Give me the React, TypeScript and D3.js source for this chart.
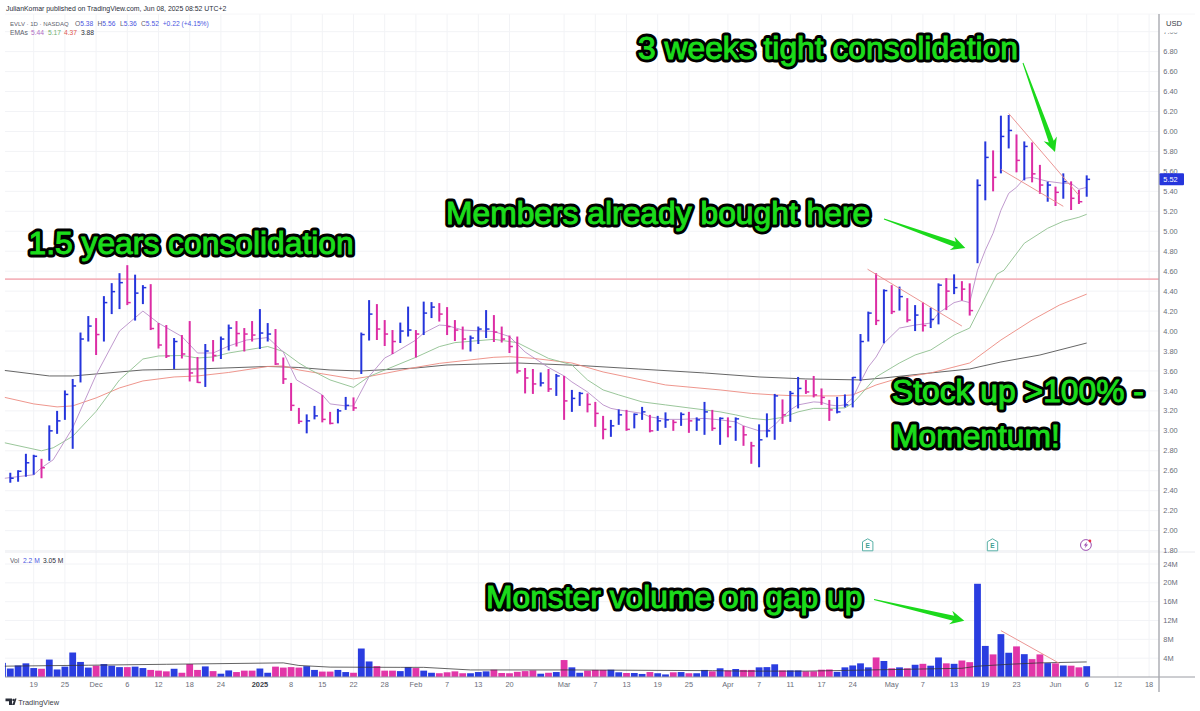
import React from "react";
import * as d3 from "d3";

const directionByTens = ["bbbbpbbbbb","bpbbbpbbpp","pbpppbpbbp","ppbbppppbb","ppbbpbbppp","bbpbbppppb","bbppppppbp","bpbbpppbbp","bbpbbpbpbb","pbpbppbbbp","bbppppbbbb","bpbpbpbpbb","pbppbbpbbp","bppbpbppb"];
const direction = directionByTens.join("");

const high = [2.58,2.605,2.77,2.76,2.72,3.055,3.2,3.405,3.52,3.985,4.15,4.13,4.35,4.48,4.58,4.66,4.565,4.46,4.47,4.08,4.06,3.93,3.96,4.1,3.74,3.87,3.91,3.945,4.065,4.1,4.03,4.1,4.22,4.08,4.02,3.735,3.48,3.23,3.165,3.25,3.36,3.19,3.22,3.34,3.335,3.985,4.31,4.27,4.11,4.01,4.085,4.245,4.01,4.295,4.29,4.28,4.24,4.11,4.045,3.955,4.045,4.21,4.16,4.045,3.955,3.945,3.63,3.62,3.585,3.62,3.57,3.55,3.41,3.39,3.375,3.29,3.15,3.11,3.215,3.21,3.175,3.24,3.16,3.15,3.185,3.11,3.185,3.19,3.135,3.29,3.21,3.135,3.135,3.135,3.05,2.89,3.065,3.175,3.37,3.315,3.4,3.54,3.51,3.55,3.425,3.31,3.34,3.365,3.54,3.97,4.195,4.58,4.418,4.46,4.445,4.33,4.26,4.288,4.235,4.478,4.53,4.568,4.5,4.478,5.52,5.9,5.81,6.158,6.165,5.97,5.9,5.89,5.665,5.497,5.447,5.58,5.5,5.413,5.56];
const low = [2.48,2.49,2.54,2.56,2.525,2.7,2.97,3.11,2.82,3.485,3.895,3.76,3.895,4.17,4.22,4.26,4.105,4.27,4.01,3.825,3.73,3.62,3.725,3.495,3.48,3.44,3.695,3.72,3.805,3.845,3.795,3.895,3.82,3.895,3.66,3.47,3.2,3.07,2.975,3.115,3.085,3.065,3.075,3.21,3.2,3.57,3.905,3.91,3.85,3.77,3.88,3.945,3.735,3.96,4.13,4.095,3.96,3.9,3.815,3.795,3.87,3.93,3.89,3.885,3.78,3.575,3.375,3.37,3.445,3.39,3.35,3.11,3.19,3.25,3.185,3.04,2.915,2.94,3.06,3.0,3.025,3.11,2.985,3.0,3.03,3.0,3.05,2.98,3.0,2.96,3.0,2.86,2.935,2.9,2.85,2.67,2.635,2.935,2.91,3.07,3.09,3.225,3.37,3.335,3.26,3.1,3.175,3.235,3.235,3.5,3.895,4.06,3.877,4.17,4.205,4.087,4.0,3.995,4.03,4.067,4.21,4.37,4.305,4.155,4.68,5.31,5.4,5.58,5.83,5.59,5.51,5.49,5.375,5.296,5.253,5.326,5.213,5.273,5.346];
const close = [2.525,2.595,2.68,2.745,2.63,3.0,3.1,3.365,3.45,3.92,4.05,3.965,4.285,4.395,4.485,4.285,4.38,4.435,4.025,3.86,3.75,3.895,3.77,3.58,3.485,3.8,3.755,3.92,4.03,3.975,3.97,3.96,3.98,3.97,3.67,3.52,3.255,3.095,3.1,3.15,3.115,3.075,3.2,3.255,3.23,3.965,4.17,4.02,3.97,3.895,4.0,4.01,3.97,4.18,4.24,4.17,4.045,4.01,3.92,3.93,4.02,4.02,3.99,3.92,3.845,3.6,3.53,3.47,3.48,3.42,3.55,3.3,3.325,3.375,3.265,3.175,3.015,3.05,3.16,3.015,3.165,3.19,3.0,3.1,3.11,3.085,3.165,3.1,3.11,3.19,3.025,3.125,3.04,3.12,2.96,2.85,2.91,3.0,3.35,3.16,3.375,3.425,3.39,3.36,3.335,3.21,3.19,3.26,3.535,3.895,4.18,4.105,4.405,4.195,4.345,4.11,4.16,4.055,4.117,4.46,4.4,4.435,4.42,4.205,5.46,5.74,5.54,5.95,6.01,5.71,5.85,5.575,5.463,5.463,5.39,5.497,5.33,5.296,5.52];
const volume = [1.8,2.45,2.9,1.9,1.75,3.7,1.6,2.2,5.2,3.2,2.0,2.4,2.75,2.4,2.1,2.1,2.2,1.9,1.5,1.35,1.2,1.75,0.9,2.75,1.5,2.25,1.25,0.7,1.4,1.05,1.35,1.35,1.8,0.9,2.2,2.0,2.1,2.0,2.3,1.5,1.15,1.15,1.5,1.05,0.9,6.05,3.3,2.3,1.35,1.35,1.25,2.1,1.9,1.35,0.9,0.8,1.0,1.2,0.8,0.8,1.05,1.2,1.55,0.85,0.8,1.1,1.25,1.4,0.7,0.9,1.05,3.6,2.05,0.9,1.35,1.5,1.5,1.55,1.0,0.85,0.85,0.65,1.05,0.8,0.55,1.0,1.05,0.8,0.8,1.5,1.2,1.85,1.4,1.7,1.5,1.5,2.05,2.1,2.7,1.4,1.4,1.4,1.2,1.2,1.55,1.6,1.1,2.05,2.45,2.9,2.05,4.15,3.4,1.85,2.05,1.85,2.6,2.8,2.4,4.15,2.9,2.8,3.5,3.15,19.8,6.6,4.8,9.1,5.15,6.5,4.85,3.8,4.8,2.95,2.9,2.45,2.4,2.05,2.3];

const emaFast: [number, number][] = [[-0.7,2.525],[3,2.56],[4,2.63],[5.5,2.71],[8,3.03],[11,3.56],[14,4.0],[17,4.2],[19,4.08],[22,3.945],[24,3.78],[26,3.78],[28,3.85],[30.3,3.91],[33,3.935],[35,3.79],[36.7,3.51],[40,3.36],[41,3.27],[43,3.25],[44,3.25],[46,3.545],[48,3.73],[49,3.77],[52,3.91],[53,3.98],[55,4.06],[56,4.055],[58,4.01],[62,3.995],[64,3.945],[66,3.79],[69,3.635],[71,3.55],[72,3.49],[74,3.39],[75,3.325],[76,3.26],[77,3.225],[78,3.21],[81,3.175],[82,3.14],[84,3.115],[86,3.115],[89,3.125],[91,3.11],[93,3.09],[94,3.05],[96,3.0],[97,3.0],[98,3.06],[99,3.14],[100,3.21],[101,3.26],[103,3.29],[104,3.285],[105,3.26],[106,3.25],[107,3.26],[108,3.33],[109,3.49],[110,3.64],[111,3.74],[112,3.877],[114,4.03],[116,4.06],[118,4.08],[119,4.18],[121,4.285],[122,4.305],[123,4.285],[124,4.61],[125,4.81],[126,4.98],[127,5.21],[128,5.38],[129,5.44],[130,5.53],[131,5.54],[133,5.5],[135,5.48],[136,5.48],[137,5.42],[138,5.44]];
const emaMid: [number, number][] = [[-0.7,2.88],[4,2.8],[5.5,2.83],[8,2.945],[11,3.195],[14,3.51],[17,3.72],[19,3.75],[22,3.755],[24,3.73],[26,3.74],[28,3.78],[30.3,3.81],[33,3.845],[35,3.795],[37,3.68],[38.4,3.615],[41,3.51],[44,3.435],[46,3.545],[52,3.737],[55,3.844],[57,3.884],[62,3.917],[65,3.884],[69,3.726],[71,3.683],[72,3.66],[74,3.51],[76,3.41],[78,3.36],[81,3.29],[84,3.26],[87,3.23],[89,3.21],[91,3.19],[93,3.16],[95,3.125],[97,3.11],[99,3.135],[101,3.19],[103,3.225],[105,3.225],[107,3.23],[108,3.276],[109,3.36],[111,3.54],[114,3.68],[116,3.76],[118,3.81],[121,3.96],[123,4.03],[126.5,4.57],[127.4,4.61],[130,4.88],[133,5.03],[135,5.1],[137,5.14],[138,5.17]];
const emaSlow: [number, number][] = [[-0.7,3.335],[3,3.27],[6,3.24],[8,3.25],[11,3.33],[14,3.43],[17,3.5],[21,3.54],[24,3.55],[28,3.585],[33,3.645],[35,3.65],[37,3.61],[44,3.52],[46,3.545],[52,3.636],[55,3.676],[62,3.737],[64,3.743],[67,3.727],[72,3.68],[76,3.59],[84,3.46],[91,3.41],[95,3.375],[98,3.36],[101,3.35],[106,3.35],[108,3.36],[111,3.46],[114,3.53],[118,3.58],[123,3.68],[127,3.91],[131,4.11],[134.5,4.26],[138,4.37]];
const emaLong: [number, number][] = [[-0.7,3.605],[5,3.55],[8,3.55],[11,3.57],[17,3.61],[24,3.62],[33,3.645],[37,3.635],[41,3.61],[45,3.6],[52,3.63],[56,3.66],[65,3.68],[73,3.655],[80.5,3.62],[89,3.58],[96,3.54],[102,3.52],[109,3.51],[112,3.53],[118,3.58],[123,3.62],[127,3.69],[132,3.76],[138,3.88]];
const volumeAverage: [number, number][] = [[-0.7,2.3],[10,2.5],[20,2.7],[35,3.0],[37,2.45],[41,2.1],[50,2.05],[53,2.05],[59,1.5],[72,1.5],[90,1.35],[94,1.25],[102,1.25],[122,1.85],[124,2.3],[128,2.7],[132,3.0],[138,3.2]];

const priceTicks = [7.0,6.8,6.6,6.4,6.2,6.0,5.8,5.6,5.4,5.2,5.0,4.8,4.6,4.4,4.2,4.0,3.8,3.6,3.4,3.2,3.0,2.8,2.6,2.4,2.2,2.0,1.8];
const volumeTicks = [4,8,12,16,20,24];
const timeLabels = ["19","25","Dec","6","12","18","24","2025","8","15","22","28","Feb","7","13","20","Mar","7","13","19","25","Apr","7","11","17","24","May","7","13","19","23","Jun","6","12","18"];
const timeIndex = [3,7,11,15,19,23,27,32,36,40,44,48,52,56,60,64,71,75,79,83,87,92,96,100,104,108,113,117,121,125,129,134,138,142,146];

const resistanceLevel = 4.52;
const priceTrends: [number, number, number, number][] = [[109.9,4.62,122,4.05],[128,6.18,137,5.36],[127,5.62,135,5.25]];
const volumeTrend = [127,9.85,134.5,2.9];

const labels: [string, number, number][] = [
  ["3 weeks tight consolidation", 638, 58.5],
  ["1.5 years consolidation", 28.5, 253.5],
  ["Members already bought here", 446, 224],
  ["Stock up >100% -", 892, 401.5],
  ["Momentum!", 892, 447],
  ["Monster volume on gap up", 486, 607.5],
];
const arrows: [number, number, number, number][] = [
  [1023,63,1055,152],
  [884,219,965.3,248],
  [874,599.5,964.3,620.7],
];
const earningsAt = [110, 126];
const eventAt = 138;

const BLUE = "#2535dc";
const PINK = "#dc2ca4";
const VBLUE = "#2a3de0";
const VPINK = "#e236a8";
const FONT = "'Liberation Sans', Arial, sans-serif";
const GRID = "#f2f3f6";
const AXIS_TEXT = "#6a6d78";

const x = d3.scaleLinear().domain([0, 138]).range([10.3, 1086.7]);
const y = d3.scaleLinear().domain([1.8, 7.0]).range([550.6, 31.66]);
const yv = d3.scaleLinear().domain([0, 24]).range([677, 564]);

const priceLine = d3.line<[number, number]>().x(d => x(d[0])).y(d => y(d[1]));
const volLine = d3.line<[number, number]>().x(d => x(d[0])).y(d => yv(d[1]));

function arrowPath(a: [number, number, number, number]) {
  const [x0, y0, x1, y1] = a;
  const dx = x1 - x0, dy = y1 - y0;
  const L = Math.hypot(dx, dy);
  const ux = dx / L, uy = dy / L, nx = -uy, ny = ux;
  const pt = (along: number, off: number) => `${x0 + ux * along + nx * off},${y0 + uy * along + ny * off}`;
  return "M" + [
    pt(0, 0.5), pt(L - 11, 2.6), pt(L - 14, 7), pt(L, 0),
    pt(L - 14, -7), pt(L - 11, -2.6), pt(0, -0.5),
  ].join("L") + "Z";
}

export default function App() {
  const t = 1159;
  return (
    <svg width={1200} height={711} viewBox="0 0 1200 711"
      style={{ position: "absolute", left: 0, top: 0, background: "#fff" }} fontFamily={FONT}>
      <defs>
        <clipPath id="vp"><rect x={5} y={553} width={1154} height={124} /></clipPath>
      </defs>
      <rect width={1200} height={711} fill="#fff" />
      {/* grid */}
      {priceTicks.map(p => <line key={p} x1={5} x2={t} y1={y(p)} y2={y(p)} stroke={GRID} />)}
      {volumeTicks.map(v => <line key={v} x1={5} x2={t} y1={yv(v)} y2={yv(v)} stroke={GRID} />)}
      {timeIndex.map(i => <line key={i} x1={x(i)} x2={x(i)} y1={14} y2={677} stroke={GRID} />)}
      <line x1={5} x2={1195} y1={14} y2={14} stroke="#f6f6f8" />
      <line x1={5} x2={1195} y1={552} y2={552} stroke="#e9eaee" />

      {/* resistance */}
      <line x1={5} x2={t} y1={y(resistanceLevel)} y2={y(resistanceLevel)} stroke="#f4b4bc" strokeWidth={1.8} />

      {/* EMAs */}
      <path d={priceLine(emaLong)!} fill="none" stroke="#555" strokeWidth={0.9} />
      <path d={priceLine(emaSlow)!} fill="none" stroke="#ec8a80" strokeWidth={0.9} />
      <path d={priceLine(emaMid)!} fill="none" stroke="#8fbf8f" strokeWidth={0.9} />
      <path d={priceLine(emaFast)!} fill="none" stroke="#b98fc8" strokeWidth={0.9} />

      {/* price bars */}
      {high.map((h, i) => {
        const c = direction[i] === "b" ? BLUE : PINK;
        return (
          <g key={i} stroke={c}>
            <line x1={x(i)} x2={x(i)} y1={y(h)} y2={y(low[i])} strokeWidth={2} />
            <line x1={x(i)} x2={x(i) + 3.4} y1={y(close[i])} y2={y(close[i])} strokeWidth={1.5} />
          </g>
        );
      })}

      {/* trend lines */}
      {priceTrends.map((d, i) => (
        <line key={i} x1={x(d[0])} y1={y(d[1])} x2={x(d[2])} y2={y(d[3])} stroke="#e98a88" strokeWidth={0.9} />
      ))}

      {/* volume */}
      <g clipPath="url(#vp)">
        <rect x={x(-1) - 3.4} width={6.8} y={yv(3)} height={yv(0) - yv(3)} fill={VBLUE} />
        {volume.map((v, i) => (
          <rect key={i} x={x(i) - 3.4} width={6.8} y={yv(v)} height={yv(0) - yv(v)}
            fill={direction[i] === "b" ? VBLUE : VPINK} />
        ))}
      </g>
      <path d={volLine(volumeAverage)!} fill="none" stroke="#333" strokeWidth={0.9} opacity={0.85} />
      <line x1={x(volumeTrend[0])} y1={yv(volumeTrend[1])} x2={x(volumeTrend[2])} y2={yv(volumeTrend[3])} stroke="#e98a88" strokeWidth={0.9} />
      <line x1={5} x2={1195} y1={677} y2={677} stroke="#9a9ca3" strokeWidth={1} />

      {/* axes */}
      <line x1={t} x2={t} y1={14} y2={692} stroke="#a8aab0" strokeWidth={1.4} />
      {priceTicks.map(p => (
        <text key={p} x={1163.3} y={y(p) + 2.6} fontSize={7.4} fill={AXIS_TEXT}>{p.toFixed(2)}</text>
      ))}
      <rect x={1160} y={15} width={33} height={17.5} fill="#fff" />
      <text x={1166} y={26} fontSize={7.6} fill="#3a3d47">USD</text>
      {volumeTicks.map(v => (
        <text key={v} x={1163.3} y={yv(v) + 2.6} fontSize={7.4} fill={AXIS_TEXT}>{v}M</text>
      ))}
      <rect x={1159.5} y={y(close[138]) - 6} width={24.5} height={12} rx={1} fill={BLUE} />
      <text x={1163.3} y={y(close[138]) + 2.7} fontSize={7.4} fill="#fff">{close[138].toFixed(2)}</text>
      {timeLabels.map((l, i) => (
        <text key={i} x={x(timeIndex[i])} y={687} fontSize={7.4} textAnchor="middle"
          fill={l === "2025" ? "#3a3d47" : AXIS_TEXT} fontWeight={l === "2025" ? 700 : 400}>{l}</text>
      ))}

      {/* event icons */}
      {earningsAt.map(i => (
        <g key={i} transform={`translate(${x(i) - 0.6},545)`}>
          <path d="M-5.2,-3.2 L0,-6.2 L5.2,-3.2 L5.2,5.8 L-5.2,5.8 Z" fill="#fff" stroke="#58b0a6" strokeWidth={1} />
          <text x={0} y={3} fontSize={6.5} fontWeight={700} textAnchor="middle" fill="#3f9e93">E</text>
        </g>
      ))}
      <g transform={`translate(${x(eventAt) - 0.8},545)`}>
        <circle r={5.4} fill="#fff" stroke="#9c4fb0" strokeWidth={1} />
        <path d="M1.2,-3.2 L-2.2,0.6 L-0.2,0.6 L-1.2,3.2 L2.2,-0.6 L0.2,-0.6 Z" fill="#9c4fb0" />
        <circle cx={4} cy={-4} r={1.4} fill="#e8344a" />
      </g>

      {/* header */}
      <text x={6} y={11.2} fontSize={6.9} fill="#2a2e39">JulianKomar published on TradingView.com, Jun 08, 2025 08:52 UTC+2</text>
      <g fontSize={6.7}>
        <text x={10} y={25.6} fontSize={6} fill="#5d606b">EVLV · 1D · NASDAQ</text>
        <text x={75} y={25.6} fill="#5d606b">O<tspan fill="#4a55e0">5.38</tspan></text>
        <text x={97.5} y={25.6} fill="#5d606b">H<tspan fill="#4a55e0">5.56</tspan></text>
        <text x={120} y={25.6} fill="#5d606b">L<tspan fill="#4a55e0">5.36</tspan></text>
        <text x={141} y={25.6} fill="#5d606b">C<tspan fill="#4a55e0">5.52</tspan></text>
        <text x={162.7} y={25.6} fill="#4a55e0">+0.22 (+4.15%)</text>
        <text x={10} y={34.8} fill="#5d606b">EMAs</text>
        <text x={31} y={34.8} fill="#b06cc4">5.44</text>
        <text x={48} y={34.8} fill="#6fb06f">5.17</text>
        <text x={64} y={34.8} fill="#e0574f">4.37</text>
        <text x={81} y={34.8} fill="#2a2e39">3.88</text>
        <text x={10} y={563} fill="#5d606b">Vol</text>
        <text x={23} y={563} fill="#4a55e0">2.2 M</text>
        <text x={43} y={563} fill="#2a2e39">3.05 M</text>
      </g>

      {/* footer */}
      <g fill="#2a2e39">
        <path d="M5.5,698.5 h6.5 v6.5 h-3 v-3.7 h-3.5 Z" />
        <circle cx={13.5} cy={700} r={1.2} />
        <path d="M16,698.5 h-1.5 l-3,6.5 h2.5 Z" transform="translate(0.5,0)" />
        <text x={18.3} y={704.5} fontSize={7.4} fill="#3a3d47">TradingView</text>
      </g>

      {/* arrows */}
      {arrows.map((a, i) => <path key={i} d={arrowPath(a)} fill="#1bd91b" />)}

      {/* annotations */}
      {labels.map(([s, lx, ly]) => (
        <g key={s} fontSize={31.8}>
          <text x={lx} y={ly} fill="#000" stroke="#000" strokeWidth={6.8} strokeLinejoin="round">{s}</text>
          <text x={lx} y={ly} fill="#1bdc1b" stroke="#1bdc1b" strokeWidth={1}>{s}</text>
        </g>
      ))}
    </svg>
  );
}
